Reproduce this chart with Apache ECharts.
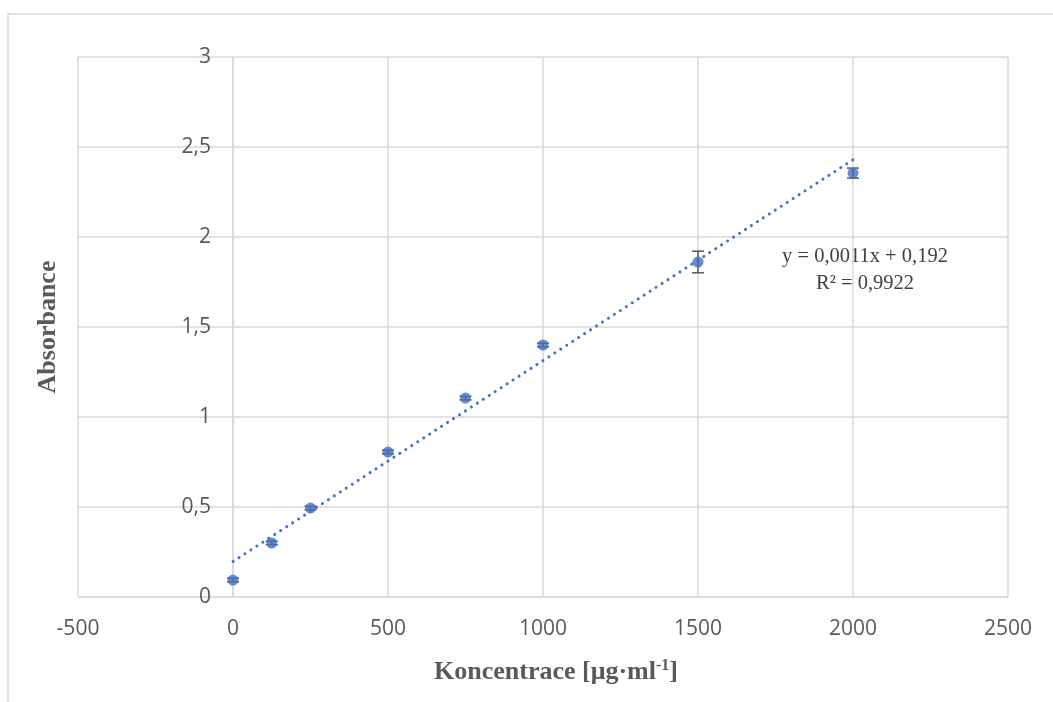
<!DOCTYPE html>
<html>
<head>
<meta charset="utf-8">
<script src="https://cdn.jsdelivr.net/npm/echarts@6/dist/echarts.min.js"></script>
<style>
  html, body { margin: 0; padding: 0; background: #fff; }
  #chart { width: 1053px; height: 702px; }
</style>
</head>
<body>
<div id="chart"></div>
<script>
// concentrations (µg/ml) and measured absorbance
var konc = [0, 125, 250, 500, 750, 1000, 1500, 2000];
var absorb = [0.094, 0.30, 0.494, 0.805, 1.105, 1.40, 1.861, 2.355];
var errs = [0.01, 0.01, 0.01, 0.01, 0.01, 0.01, 0.06, 0.028];
var eqText = ['y = 0,0011x + 0,192', 'R² = 0,9922'];

// least squares trend line, like Excel does
var n = konc.length, mx = 0, my = 0;
for (var i = 0; i < n; i++) { mx += konc[i]; my += absorb[i]; }
mx /= n; my /= n;
var sxy = 0, sxx = 0;
for (var i = 0; i < n; i++) { sxy += (konc[i] - mx) * (absorb[i] - my); sxx += (konc[i] - mx) * (konc[i] - mx); }
var slope = sxy / sxx, icpt = my - slope * mx;
var trend = [[konc[0], icpt + slope * konc[0]], [konc[n - 1], icpt + slope * konc[n - 1]]];

var points = konc.map(function (x, i) { return [x, absorb[i]]; });
var errData = konc.map(function (x, i) { return [x, absorb[i] - errs[i], absorb[i] + errs[i]]; });

var blue = '#4472C4';
var grey = '#595959';
var fmt = function (v) { return String(v).replace('.', ','); };

var myChart = echarts.init(document.getElementById('chart'));

option = {
  animation: false,
  grid: { left: 78, right: 45, top: 57, bottom: 105, containLabel: false, outerBoundsMode: 'none' },
  xAxis: {
    type: 'value',
    min: -500, max: 2500, interval: 500,
    name: 'Koncentrace [μg·ml{sup|-1}]',
    nameLocation: 'middle',
    nameGap: 61,
    nameTextStyle: {
      fontFamily: 'Liberation Serif', fontWeight: 'bold', fontSize: 26, color: grey,
      padding: [0, 0, 0, 26],
      rich: { sup: { fontFamily: 'Liberation Serif', fontWeight: 'bold', fontSize: 16, color: grey, verticalAlign: 'top', padding: [0, 0, 12, 0] } }
    },
    axisLine: { lineStyle: { color: '#d9d9d9', width: 1.5 } },
    axisTick: { show: false },
    axisLabel: { fontFamily: 'Open Sans', fontSize: 21, color: grey, margin: 22, formatter: fmt },
    splitLine: { lineStyle: { color: '#d9d9d9', width: 1.5 } }
  },
  yAxis: {
    type: 'value',
    min: 0, max: 3, interval: 0.5,
    // axis crosses the x axis at 0, as in the original
    offset: -155,
    name: 'Absorbance',
    nameLocation: 'middle',
    nameGap: 172,
    nameRotate: 90,
    nameTextStyle: { fontFamily: 'Liberation Serif', fontWeight: 'bold', fontSize: 26, color: grey, padding: [0, 0, 0, 0] },
    axisLine: { show: true, onZero: false, lineStyle: { color: '#d9d9d9', width: 1.5 } },
    axisTick: { show: false },
    axisLabel: { fontFamily: 'Open Sans', fontSize: 21, color: grey, margin: 22, formatter: fmt, padding: [3, 0, 0, 0] },
    splitLine: { lineStyle: { color: '#d9d9d9', width: 1.5 } }
  },
  series: [
    {
      type: 'line',
      data: trend,
      symbol: 'none',
      lineStyle: { color: blue, width: 3, type: [0.1, 7], cap: 'round' },
      z: 2
    },
    {
      type: 'custom',
      data: errData,
      renderItem: function (params, api) {
        var top = api.coord([api.value(0), api.value(2)]);
        var bot = api.coord([api.value(0), api.value(1)]);
        var w = 6;
        var st = { stroke: '#595959', lineWidth: 1.5 };
        return {
          type: 'group',
          children: [
            { type: 'line', shape: { x1: top[0], y1: top[1], x2: bot[0], y2: bot[1] }, style: st },
            { type: 'line', shape: { x1: top[0] - w, y1: top[1], x2: top[0] + w, y2: top[1] }, style: st },
            { type: 'line', shape: { x1: bot[0] - w, y1: bot[1], x2: bot[0] + w, y2: bot[1] }, style: st }
          ]
        };
      },
      z: 3
    },
    {
      type: 'scatter',
      data: points,
      symbol: 'circle',
      symbolSize: 11,
      itemStyle: { color: blue },
      z: 4
    }
  ],
  graphic: [
    {
      type: 'rect',
      shape: { x: 8, y: 14, width: 1100, height: 760 },
      style: { fill: 'none', stroke: '#d9d9d9', lineWidth: 1.5 },
      silent: true
    },
    {
      type: 'text',
      x: 865, y: 243,
      style: {
        text: eqText.join('\n'),
        fontFamily: 'Liberation Serif', fontSize: 20.5, fill: '#404040',
        align: 'center', lineHeight: 27
      }
    }
  ]
};

myChart.setOption(option);
</script>
</body>
</html>
